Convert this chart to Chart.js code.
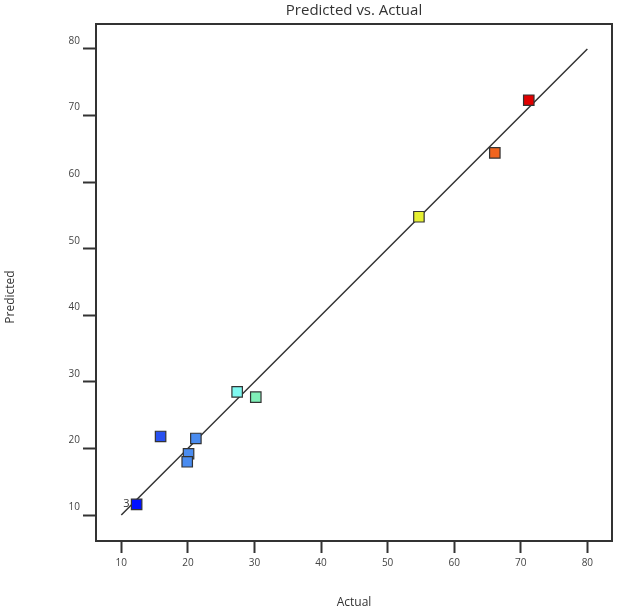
<!DOCTYPE html>
<html>
<head>
<meta charset="utf-8">
<script src="https://cdn.jsdelivr.net/npm/chart.js@4/dist/chart.umd.min.js"></script>
<style>
html,body{margin:0;padding:0;background:#fff;}
#wrap{width:617px;height:610px;}
</style>
</head>
<body>
<div id="wrap"><canvas id="c" width="617" height="610"></canvas></div>
<script>
// Data
const actual    = [71.2, 66.1, 54.7, 27.4, 30.2, 15.9, 21.2, 20.1, 19.9, 12.3];
const predicted = [72.3, 64.4, 54.8, 28.5, 27.7, 21.8, 21.5, 19.2, 18.0, 11.6];
const pointColors = ['#e00000', '#f0641e', '#e6f032', '#7ff8f0', '#80f0b8', '#2850f0', '#4a8cf0', '#4a8cf0', '#4a8cf0', '#0010ff'];
const tickValues = [10, 20, 30, 40, 50, 60, 70, 80];
const refLine = [{x: 10, y: 10}, {x: 80, y: 80}];
const pointNotes = [{x: 12.3, y: 11.6, text: '3'}];

const pts = actual.map((a, i) => ({x: a, y: predicted[i]}));
const FONT = "'Open Sans', 'Noto Sans', sans-serif";

const framePlugin = {
  id: 'frame',
  afterDatasetsDraw(chart) {
    const {ctx, chartArea: a} = chart;
    ctx.save();
    ctx.strokeStyle = '#333';
    ctx.lineWidth = 2;
    ctx.strokeRect(a.left, a.top, a.right - a.left, a.bottom - a.top);
    ctx.fillStyle = '#333';
    ctx.font = "11px " + FONT;
    ctx.textAlign = 'right';
    ctx.textBaseline = 'middle';
    const xs = chart.scales.x, ys = chart.scales.y;
    pointNotes.forEach(n => {
      ctx.fillText(n.text, xs.getPixelForValue(n.x) - 7, ys.getPixelForValue(n.y) - 1);
    });
    // y axis title
    ctx.font = "12px " + FONT;
    ctx.textAlign = 'center';
    ctx.translate(11, 297);
    ctx.rotate(-Math.PI / 2);
    ctx.fillText('Predicted', 0, 0);
    ctx.restore();
  }
};

const fixedTicks = axis => { axis.ticks = tickValues.map(v => ({value: v})); };

new Chart(document.getElementById('c'), {
  type: 'scatter',
  data: {
    datasets: [
      {
        type: 'scatter',
        data: pts,
        pointStyle: 'rect',
        pointRadius: 7.4,
        pointHoverRadius: 7.4,
        backgroundColor: pointColors,
        borderColor: '#333',
        borderWidth: 1.2,
        order: 1
      },
      {
        type: 'line',
        data: refLine,
        borderColor: '#333',
        borderWidth: 1.5,
        pointRadius: 0,
        fill: false,
        order: 2
      }
    ]
  },
  options: {
    responsive: false,
    animation: false,
    layout: {autoPadding: false, padding: {left: 0, right: 5, top: 0, bottom: 0}},
    plugins: {
      legend: {display: false},
      tooltip: {enabled: false},
      title: {
        display: true,
        text: 'Predicted vs. Actual',
        fullSize: false,
        color: '#333',
        font: {family: FONT, size: 15, weight: 'normal', lineHeight: 1.2},
        padding: {top: 2, bottom: 4}
      }
    },
    scales: {
      x: {
        type: 'linear',
        min: 6.2, max: 83.7,
        afterBuildTicks: fixedTicks,
        afterFit: s => { s.height = 69; s.paddingLeft = 0; s.paddingRight = 0; },
        border: {display: true, color: '#333', width: 2},
        grid: {drawOnChartArea: false, drawTicks: true, tickLength: 12, tickColor: '#333', tickWidth: 2},
        ticks: {color: '#444', font: {family: FONT, size: 10}, padding: 4, maxRotation: 0},
        title: {display: true, text: 'Actual', color: '#333', font: {family: FONT, size: 12}, padding: {top: 0, bottom: 0}}
      },
      y: {
        type: 'linear',
        min: 6.1, max: 83.75,
        afterBuildTicks: fixedTicks,
        afterFit: s => { s.width = 96; s.paddingTop = 0; s.paddingBottom = 0; },
        border: {display: true, color: '#333', width: 2},
        grid: {drawOnChartArea: false, drawTicks: true, tickLength: 13, tickColor: '#333', tickWidth: 2},
        ticks: {color: '#444', font: {family: FONT, size: 10}, padding: 3, labelOffset: -8},
        title: {display: false}
      }
    }
  },
  plugins: [framePlugin]
});
</script>
</body>
</html>
